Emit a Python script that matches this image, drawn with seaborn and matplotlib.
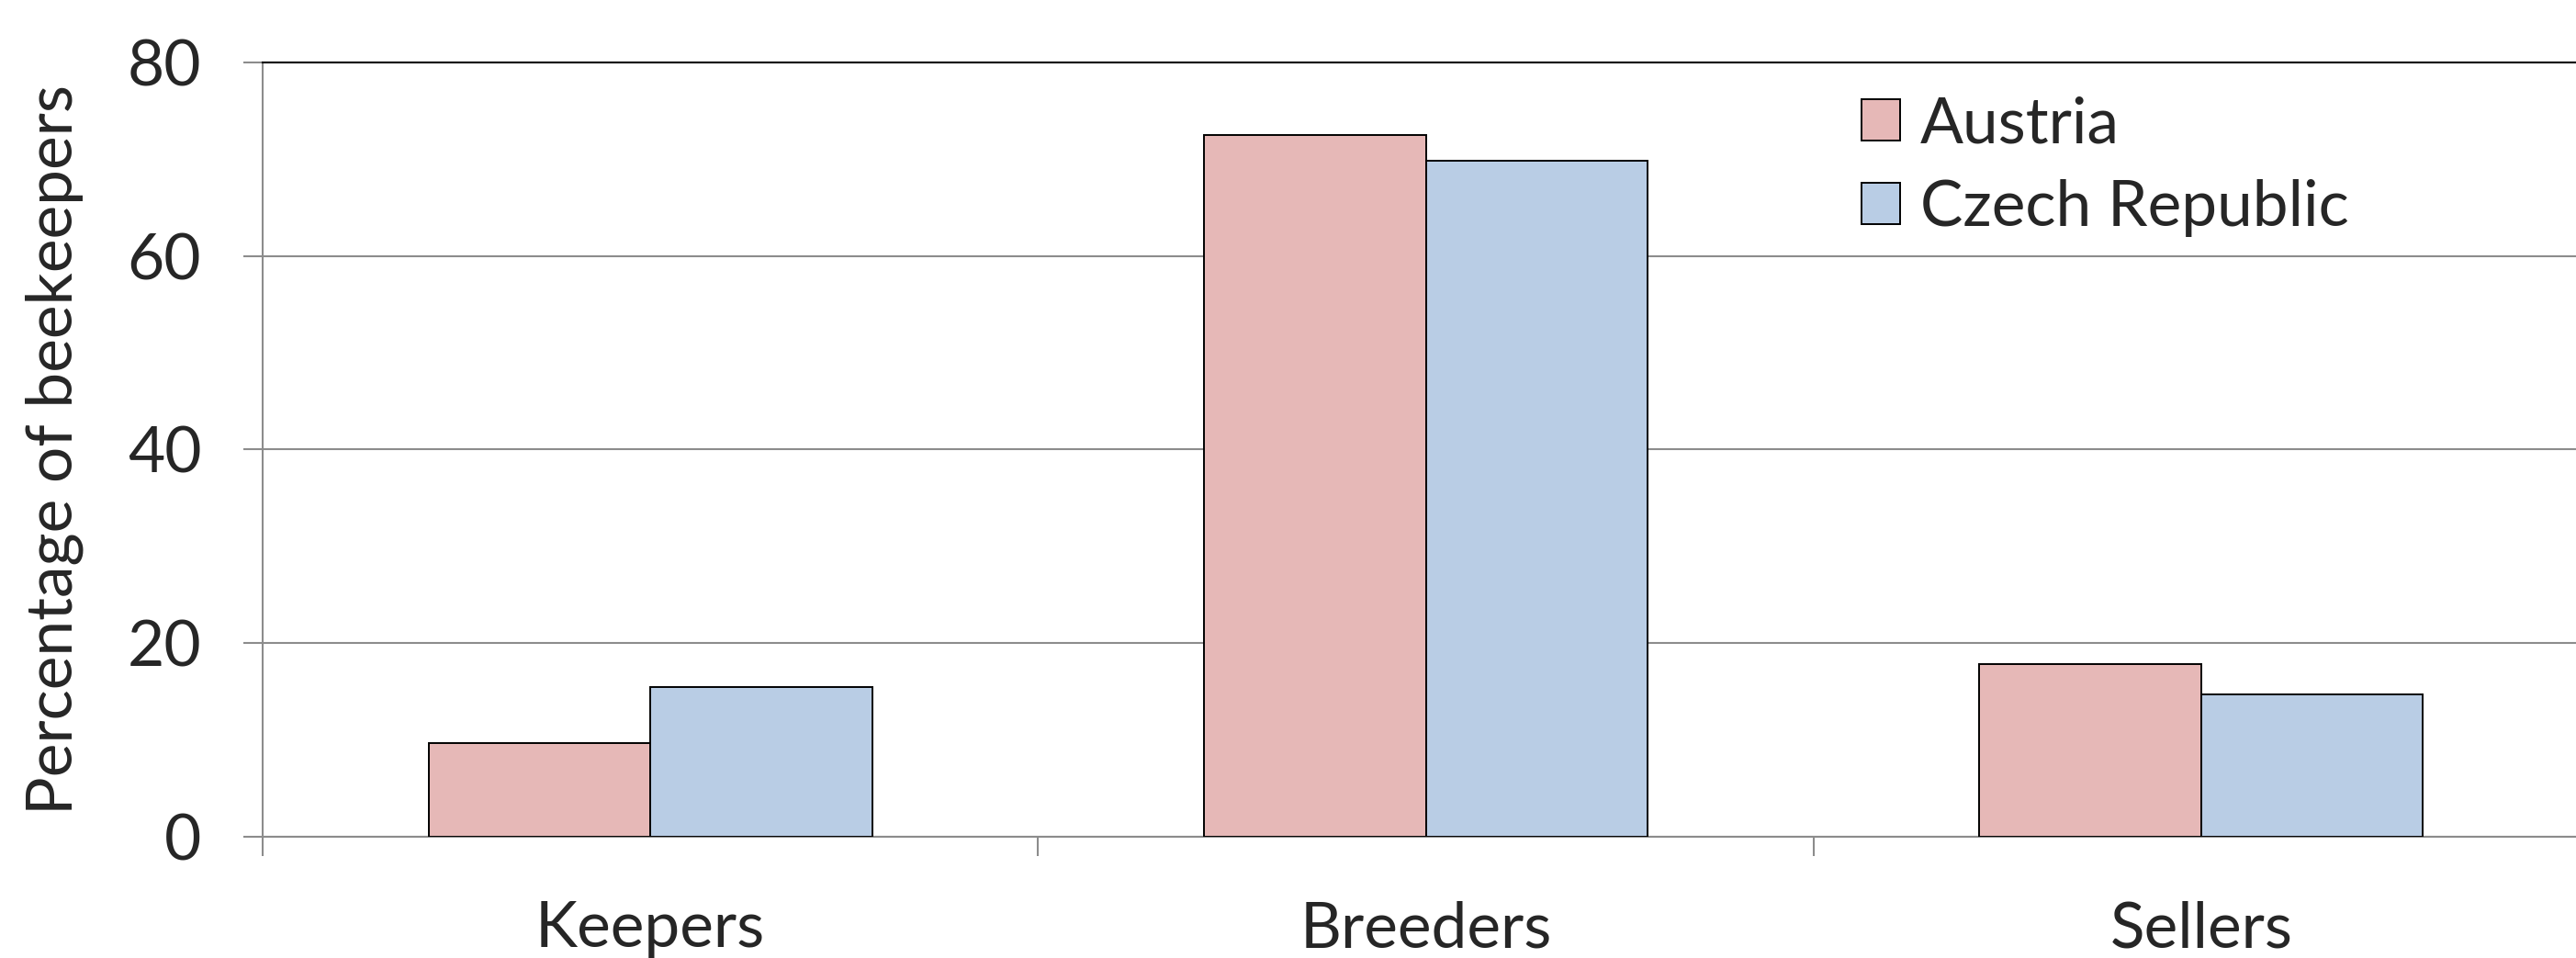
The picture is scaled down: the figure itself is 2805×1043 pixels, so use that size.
import matplotlib
matplotlib.use("Agg")
import matplotlib.pyplot as plt
import seaborn as sns
import pandas as pd

# Share of beekeepers per role, by country
roles = ["Keepers", "Breeders", "Sellers"]
countries = ["Austria", "Czech Republic"]
austria = [9.7, 72.5, 17.8]
czech = [15.5, 69.8, 14.7]
y_ticks = [0, 20, 40, 60, 80]

colors = {"Austria": "#E6B8B7", "Czech Republic": "#B9CDE5"}

df = pd.DataFrame({
    "role": roles * 2,
    "country": [countries[0]] * 3 + [countries[1]] * 3,
    "pct": austria + czech,
})

sns.set_style("white")
plt.rcParams["font.family"] = ["Lato", "DejaVu Sans"]

DPI = 100
fig = plt.figure(figsize=(28.05, 10.43), dpi=DPI)
W, H = 2805, 1043
left, right, top, bottom = 286, 2819, 68, 911
ax = fig.add_axes([left / W, 1 - bottom / H, (right - left) / W, (bottom - top) / H])

sns.barplot(data=df, x="role", y="pct", hue="country", order=roles,
            hue_order=countries, palette=colors, width=0.572, gap=0,
            edgecolor="black", linewidth=1.4, saturation=1, ax=ax, zorder=3)

grid_c = "#8C8C8C"
ax.set_xlim(-0.5, 2.5)
ax.set_ylim(0, 80)
ax.set_yticks(y_ticks)
ax.yaxis.grid(True, color=grid_c, linewidth=1.5, zorder=0)
ax.set_axisbelow(True)

fs = 50
ax.tick_params(axis="y", direction="out", length=15, width=1.5, color=grid_c,
               labelsize=fs, pad=33, left=True)
ax.set_xticks(range(len(roles)))
ax.set_xticklabels(roles)
ax.tick_params(axis="x", which="major", length=0, labelsize=fs, pad=50)
ax.set_xticks([-0.5, 0.5, 1.5], minor=True)
ax.tick_params(axis="x", which="minor", direction="out", length=15, width=1.5,
               color=grid_c, bottom=True)

for side in ["left", "bottom"]:
    ax.spines[side].set_color(grid_c)
    ax.spines[side].set_linewidth(1.5)
ax.spines["top"].set_color("black")
ax.spines["top"].set_linewidth(1.5)
ax.spines["right"].set_visible(False)

ax.set_xlabel("")
ax.set_ylabel("Percentage of beekeepers", fontsize=fs, labelpad=34)

leg = ax.legend(loc="upper left", bbox_to_anchor=(2027 / W, 1 - 104 / H),
                bbox_transform=fig.transFigure, frameon=False, fontsize=fs,
                handlelength=0.6, handleheight=0.62, handletextpad=0.32,
                labelspacing=0.4, borderpad=0, borderaxespad=0)
for h in leg.legend_handles:
    h.set_edgecolor("black")
    h.set_linewidth(1.4)

fig.savefig("out.png", dpi=DPI)
